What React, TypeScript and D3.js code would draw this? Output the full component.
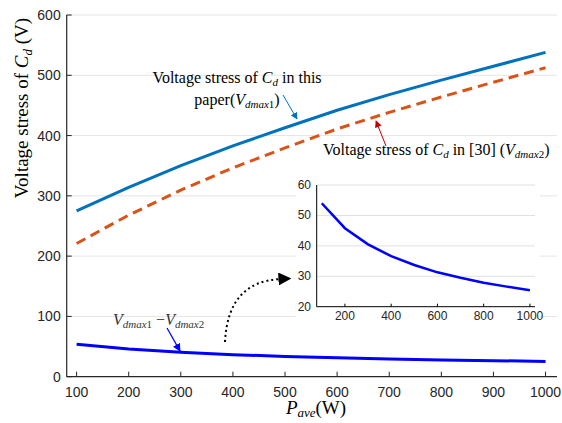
import * as d3 from "d3";
import React from "react";

// P_ave (W)
const power = [100, 200, 300, 400, 500, 600, 700, 800, 900, 1000];
// Voltage stress of Cd in this paper (Vdmax1)
const vdmax1 = [275, 314, 350, 383, 413, 442, 468, 492, 515, 538];
// Voltage stress of Cd in [30] (Vdmax2)
const vdmax2 = [221, 268, 309.5, 346.5, 379.5, 411, 438.5, 464, 488.5, 512.5];
// Vdmax1 - Vdmax2
const vdiff = [54, 45.8, 40.5, 36.6, 33.7, 31.3, 29.5, 27.9, 26.6, 25.4];

const xTicks = [100, 200, 300, 400, 500, 600, 700, 800, 900, 1000];
const yTicks = [0, 100, 200, 300, 400, 500, 600];
const insetXTicks = [200, 400, 600, 800, 1000];
const insetYTicks = [20, 30, 40, 50, 60];

const W = 562;
const H = 423;
const sans = { fontFamily: "Liberation Sans, Arial, sans-serif" };
const serif = { fontFamily: "Liberation Serif, Times New Roman, serif" };
const textCol = "#262626";

export default function App() {
  // main axes
  const x = d3.scaleLinear().domain([81, 1022]).range([66.7, 557]);
  const y = d3.scaleLinear().domain([0, 600]).range([376.7, 15]);
  // inset axes
  const ix = d3.scaleLinear().domain([78, 1022]).range([316.7, 535]);
  const iy = d3.scaleLinear().domain([20, 60]).range([306.7, 185]);

  const line = (ys: number[]) =>
    d3
      .line<number>()
      .x((_, i) => x(power[i]))
      .y((d) => y(d))(ys) as string;

  const insetLine = d3
    .line<number>()
    .x((_, i) => ix(power[i]))
    .y((d) => iy(d))(vdiff) as string;

  const [x0, x1] = x.range();
  const [y0, y1] = y.range();

  return (
    <svg
      width={W}
      height={H}
      style={{ position: "fixed", left: 0, top: 0, background: "#fff" }}
    >
      <defs>
        <marker id="hBlue" viewBox="0 0 10 10" refX="9" refY="5" markerWidth="7" markerHeight="7" orient="auto" markerUnits="userSpaceOnUse">
          <path d="M0,0 L10,5 L0,10 z" fill="#0072BD" />
        </marker>
        <marker id="hRed" viewBox="0 0 10 10" refX="9" refY="5" markerWidth="7" markerHeight="7" orient="auto" markerUnits="userSpaceOnUse">
          <path d="M0,0 L10,5 L0,10 z" fill="#C00000" />
        </marker>
        <marker id="hDiff" viewBox="0 0 10 10" refX="9" refY="5" markerWidth="8" markerHeight="8" orient="auto" markerUnits="userSpaceOnUse">
          <path d="M0,0 L10,5 L0,10 z" fill="#0000FF" />
        </marker>
        <marker id="hBlack" viewBox="0 0 10 10" refX="2" refY="5" markerWidth="13" markerHeight="13" orient="auto" markerUnits="userSpaceOnUse">
          <path d="M0,0 L10,5 L0,10 z" fill="#000" />
        </marker>
      </defs>

      {/* gridlines */}
      {yTicks.slice(1).map((t) => (
        <line key={t} x1={x0} x2={x1} y1={y(t)} y2={y(t)} stroke="#e5e5e5" strokeWidth={1} />
      ))}

      {/* axes */}
      <line x1={x0} x2={x0} y1={y0} y2={y1} stroke={textCol} strokeWidth={1.2} />
      <line x1={x0} x2={x1} y1={y0} y2={y0} stroke={textCol} strokeWidth={1.2} />
      {xTicks.map((t) => (
        <g key={t}>
          <line x1={x(t)} x2={x(t)} y1={y0} y2={y0 - 5} stroke={textCol} strokeWidth={1} />
          <text x={x(t)} y={397} textAnchor="middle" style={sans} fontSize={14} fill={textCol}>
            {t}
          </text>
        </g>
      ))}
      {yTicks.map((t) => (
        <g key={t}>
          <line x1={x0} x2={x0 + 5} y1={y(t)} y2={y(t)} stroke={textCol} strokeWidth={1} />
          <text x={x0 - 6} y={y(t) + 5} textAnchor="end" style={sans} fontSize={14} fill={textCol}>
            {t}
          </text>
        </g>
      ))}

      {/* axis labels */}
      <text transform="translate(28,108) rotate(-90)" textAnchor="middle" style={serif} fontSize={19} fill="#000">
        Voltage stress of <tspan fontStyle="italic">C</tspan>
        <tspan fontStyle="italic" fontSize={13} dy={4}>d</tspan>
        <tspan dy={-4}> (V)</tspan>
      </text>
      <text x={316} y={414} textAnchor="middle" style={serif} fontSize={19} fill="#000">
        <tspan fontStyle="italic">P</tspan>
        <tspan fontStyle="italic" fontSize={13} dy={3}>ave</tspan>
        <tspan dy={-3}>(W)</tspan>
      </text>

      {/* series */}
      <path d={line(vdmax1)} fill="none" stroke="#0072BD" strokeWidth={3} />
      <path d={line(vdmax2)} fill="none" stroke="#D95319" strokeWidth={3} strokeDasharray="10,6" />
      <path d={line(vdiff)} fill="none" stroke="#0000FF" strokeWidth={3} />

      {/* annotations */}
      <text x={237} y={83} textAnchor="middle" style={serif} fontSize={16} fill="#000">
        Voltage stress of <tspan fontStyle="italic">C</tspan>
        <tspan fontStyle="italic" fontSize={11} dy={3}>d</tspan>
        <tspan dy={-3}> in this</tspan>
      </text>
      <text x={237} y={105} textAnchor="middle" style={serif} fontSize={16} fill="#000">
        paper(<tspan fontStyle="italic">V</tspan>
        <tspan fontStyle="italic" fontSize={11} dy={3}>dmax</tspan>
        <tspan fontSize={11}>1</tspan>
        <tspan dy={-3}>)</tspan>
      </text>
      <line x1={283} y1={95} x2={297} y2={119} stroke="#0072BD" strokeWidth={1} markerEnd="url(#hBlue)" />

      <text x={323} y={155} style={serif} fontSize={16} fill="#000">
        Voltage stress of <tspan fontStyle="italic">C</tspan>
        <tspan fontStyle="italic" fontSize={11} dy={3}>d</tspan>
        <tspan dy={-3}> in [30] (</tspan>
        <tspan fontStyle="italic">V</tspan>
        <tspan fontStyle="italic" fontSize={11} dy={3}>dmax</tspan>
        <tspan fontSize={11}>2</tspan>
        <tspan dy={-3}>)</tspan>
      </text>
      <line x1={386} y1={146} x2={376} y2={121} stroke="#C00000" strokeWidth={1} markerEnd="url(#hRed)" />

      <text x={113} y={325} style={serif} fontSize={16} fill="#333">
        <tspan fontStyle="italic">V</tspan>
        <tspan fontStyle="italic" fontSize={11} dy={3}>dmax</tspan>
        <tspan fontSize={11}>1</tspan>
        <tspan dy={-3}> −</tspan>
        <tspan fontStyle="italic">V</tspan>
        <tspan fontStyle="italic" fontSize={11} dy={3}>dmax</tspan>
        <tspan fontSize={11}>2</tspan>
      </text>
      <line x1={167} y1={328} x2={180} y2={351} stroke="#0000FF" strokeWidth={1.3} markerEnd="url(#hDiff)" />

      {/* inset */}
      <rect x={296} y={176} width={244} height={152} fill="#fff" />
      {insetYTicks.slice(1).map((t) => (
        <line key={t} x1={ix.range()[0]} x2={ix.range()[1]} y1={iy(t)} y2={iy(t)} stroke="#e0e0e0" strokeWidth={1} />
      ))}
      <line x1={ix.range()[0]} x2={ix.range()[0]} y1={iy.range()[0]} y2={iy.range()[1]} stroke="#000" strokeWidth={1} />
      <line x1={ix.range()[0]} x2={ix.range()[1]} y1={iy.range()[0]} y2={iy.range()[0]} stroke="#000" strokeWidth={1} />
      {insetXTicks.map((t) => (
        <g key={t}>
          <line x1={ix(t)} x2={ix(t)} y1={iy.range()[0]} y2={iy.range()[0] - 3} stroke="#000" strokeWidth={1} />
          <text x={ix(t)} y={320} textAnchor="middle" style={sans} fontSize={12} fill={textCol}>
            {t}
          </text>
        </g>
      ))}
      {insetYTicks.map((t) => (
        <text key={t} x={311} y={iy(t) + 4} textAnchor="end" style={sans} fontSize={12} fill={textCol}>
          {t}
        </text>
      ))}
      <path d={insetLine} fill="none" stroke="#0000FF" strokeWidth={2.5} />

      {/* dotted pointer to inset */}
      <path d="M225,342 Q228,281 281,279" fill="none" stroke="#000" strokeWidth={2} strokeDasharray="2,3" markerEnd="url(#hBlack)" />
    </svg>
  );
}
